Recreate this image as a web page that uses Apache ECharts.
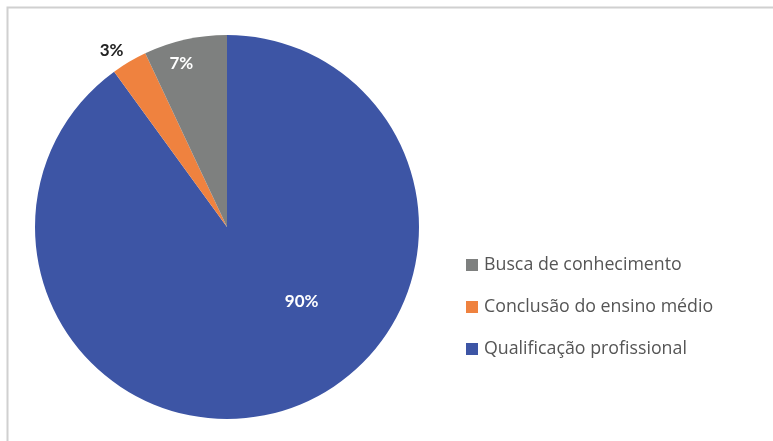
<!DOCTYPE html>
<html>
<head>
<meta charset="utf-8">
<script src="https://cdn.jsdelivr.net/npm/echarts@6/dist/echarts.min.js"></script>
<style>
	html, body { margin: 0; padding: 0; background: #fff; }
	#chart { width: 773px; height: 441px; }
</style>
</head>
<body>
<div id="chart"></div>
<script>
// slices, clockwise from 12 o'clock
var categories = ['Qualificação profissional', 'Conclusão do ensino médio', 'Busca de conhecimento'];
var values = [90, 3, 7];
var legendOrder = ['Busca de conhecimento', 'Conclusão do ensino médio', 'Qualificação profissional'];

var colors = ['#3d55a5', '#ef823f', '#7e807f'];
// label nudges so they sit where the original has them
var labelOffsets = [[44, -20], [-65, -91], [-24, -67]];
var labelColors = ['#fff', '#222', '#fff'];

var chartDom = document.getElementById('chart');
var myChart = echarts.init(chartDom);

var data = [];
for (var i = 0; i < categories.length; i++) {
	data.push({
		name: categories[i],
		value: values[i],
		itemStyle: { color: colors[i] },
		label: {
			offset: labelOffsets[i],
			color: labelColors[i]
		}
	});
}

var option = {
	animation: false,
	graphic: {
		elements: [
			{
				type: 'polyline',
				shape: { points: [[7.5, 441], [7.5, 7.5], [773, 7.5]] },
				style: { stroke: '#d0d0d0', lineWidth: 2, fill: null },
				silent: true
			}
		]
	},
	legend: {
		orient: 'vertical',
		left: 466,
		top: 256,
		padding: 0,
		itemWidth: 12,
		itemHeight: 12,
		itemGap: 24,
		icon: 'rect',
		data: legendOrder,
		textStyle: {
			fontFamily: 'Open Sans',
			fontSize: 17.8,
			color: '#555',
			padding: [0, 0, 0, 1]
		}
	},
	series: [
		{
			type: 'pie',
			center: [227, 227],
			radius: 192,
			startAngle: 90,
			clockwise: true,
			data: data,
			label: {
				show: true,
				position: 'inside',
				formatter: '{c}%',
				fontFamily: 'Lato',
				fontWeight: 'bold',
				fontSize: 17
			},
			labelLine: { show: false },
			emphasis: { disabled: true }
		}
	]
};
option && myChart.setOption(option);
</script>
</body>
</html>
